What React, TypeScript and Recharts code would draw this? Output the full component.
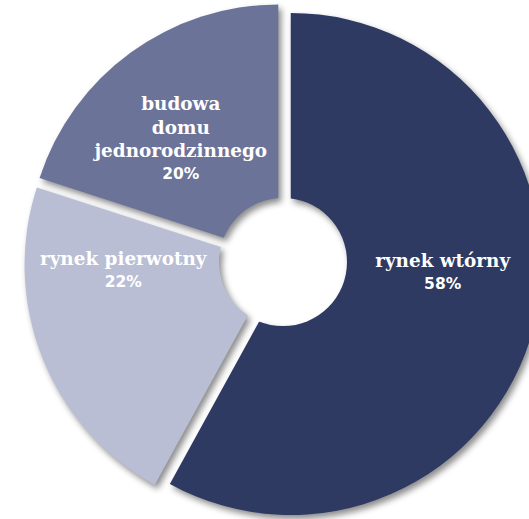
import React from 'react';
import { PieChart, Pie, Cell, Sector } from 'recharts';

// ---- data ----
const categories = ['rynek wtórny', 'rynek pierwotny', 'budowa domu jednorodzinnego'];
const values = [58, 22, 20];
const labelLines = [['rynek wtórny'], ['rynek pierwotny'], ['budowa', 'domu', 'jednorodzinnego']];
const percentLabels = ['58%', '22%', '20%'];

// ---- style ----
const colors = ['#2E3A62', '#B9BED5', '#6B7398'];
const labelAngleShift = [10.7, -18.6, 3.7];

const W = 529;
const H = 519;
const CX = 283;
const CY = 262;
const OUTER = 251;
const HOLE = 64;
const EXPLODE = 8;
const LABEL_R = 160;
const LINE_H = 23.7;
const RAD = Math.PI / 180;

const data = categories.map((name, i) => ({
  name,
  value: values[i],
  lines: labelLines[i],
  pct: percentLabels[i],
}));

const renderSlice = (props: any) => {
  const { cx, cy, midAngle, outerRadius, startAngle, endAngle, fill, index } = props;
  const dx = EXPLODE * Math.cos(-midAngle * RAD);
  const dy = EXPLODE * Math.sin(-midAngle * RAD);
  const id = `hole-mask-${index}`;
  return (
    <g>
      <defs>
        <mask id={id} maskUnits="userSpaceOnUse" x={cx - 1000} y={cy - 1000} width={2000} height={2000}>
          <rect x={cx - 1000} y={cy - 1000} width={2000} height={2000} fill="white" />
          <circle cx={cx} cy={cy} r={HOLE} fill="black" />
        </mask>
      </defs>
      <g mask={`url(#${id})`}>
        <Sector
          cx={cx + dx}
          cy={cy + dy}
          innerRadius={0}
          outerRadius={outerRadius}
          startAngle={startAngle}
          endAngle={endAngle}
          fill={fill}
          stroke="none"
        />
      </g>
    </g>
  );
};

const renderLabel = (props: any) => {
  const { cx, cy, midAngle, index } = props;
  const d = data[index];
  const ang = midAngle + labelAngleShift[index];
  const x = cx + LABEL_R * Math.cos(-ang * RAD);
  const y = cy + LABEL_R * Math.sin(-ang * RAD);
  const all = [...d.lines, d.pct];
  const n = all.length;
  return (
    <g key={`lbl-${index}`}>
      {all.map((t, i) => {
        const isPct = i === n - 1;
        return (
          <text
            key={i}
            x={x}
            y={y + (i - (n - 1) / 2) * LINE_H}
            textAnchor="middle"
            dominantBaseline="central"
            fill="#FFFFFF"
            fontFamily={isPct ? '"DejaVu Sans", sans-serif' : '"DejaVu Serif", serif'}
            fontWeight="bold"
            fontSize={isPct ? 15.5 : 18.4}
          >
            {t}
          </text>
        );
      })}
    </g>
  );
};

export default function App() {
  return (
    <div style={{ position: 'absolute', left: 0, top: 0, width: W, height: H, background: '#FFFFFF', overflow: 'hidden' }}>
      <style>{`.exploded-slices { filter: drop-shadow(3px 4px 3px rgba(0,0,0,0.45)); }`}</style>
      <PieChart width={W} height={H} margin={{ top: 0, right: 0, bottom: 0, left: 0 }}>
        <Pie
          className="exploded-slices"
          data={data}
          dataKey="value"
          nameKey="name"
          cx={CX}
          cy={CY}
          innerRadius={0}
          outerRadius={OUTER}
          startAngle={90}
          endAngle={-270}
          stroke="none"
          isAnimationActive={false}
          shape={renderSlice}
          activeShape={renderSlice}
          inactiveShape={renderSlice}
          label={false}
          labelLine={false}
        >
          {data.map((d, i) => (
            <Cell key={d.name} fill={colors[i]} />
          ))}
        </Pie>
        <Pie
          data={data}
          dataKey="value"
          nameKey="name"
          cx={CX}
          cy={CY}
          innerRadius={0}
          outerRadius={OUTER}
          startAngle={90}
          endAngle={-270}
          fill="none"
          stroke="none"
          isAnimationActive={false}
          label={renderLabel}
          labelLine={false}
        />
      </PieChart>
    </div>
  );
}
